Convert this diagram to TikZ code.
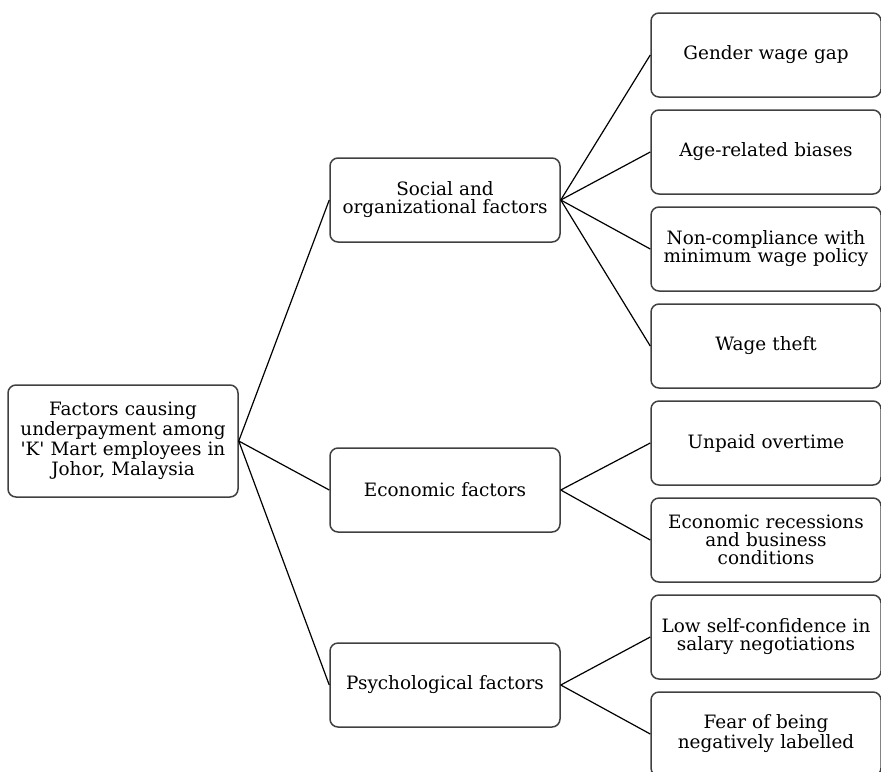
\documentclass[tikz,border=0pt]{standalone}
\usepackage{fontspec}
\setmainfont{DejaVu Serif}
\usetikzlibrary{positioning}

\begin{document}
\begin{tikzpicture}[x=0.5pt,y=-0.5pt,
    box/.style={draw=black!75,line width=0.75pt,rounded corners=4pt,
      align=center,inner sep=1pt,text width=113pt,
      font=\fontsize{9.2}{9}\selectfont},
    rootbox/.style={box,minimum width=115pt,minimum height=56pt},
    factor/.style={box,minimum width=115pt,minimum height=42pt},
    item/.style={box,minimum width=114pt,minimum height=42pt},
    link/.style={line width=0.6pt}]
  \useasboundingbox (0,0) rectangle (881,771);
  % Place the root
  \node[rootbox] (root) at (123,441) {Factors causing\\underpayment among\\
    \textquotesingle K\textquotesingle{} Mart employees in\\Johor, Malaysia};
  % Place the groups of factors
  \node[factor] (social) at (445,200) {Social and\\organizational factors};
  \node[factor] (econ) at (445,490) {Economic factors};
  \node[factor] (psych) at (445,685) {Psychological factors};
  % Place the single factors
  \node[item] (gender) at (766,55) {Gender wage gap};
  \node[item,below=5.75pt of gender] (age) {Age-related biases};
  \node[item,below=5.75pt of age] (minwage) {Non-compliance with\\minimum wage policy};
  \node[item,below=5.75pt of minwage] (theft) {Wage theft};
  \node[item,below=5.75pt of theft] (overtime) {Unpaid overtime};
  \node[item,below=5.75pt of overtime] (recession) {Economic recessions\\and business\\conditions};
  \node[item,below=5.75pt of recession] (confidence) {Low self-confidence in\\salary negotiations};
  \node[item,below=5.75pt of confidence] (fear) {Fear of being\\negatively labelled};
  % Connect the root to the groups
  \foreach \g in {social,econ,psych}
    \draw[link] (root.east) -- (\g.west);
  % Connect the groups to the single factors
  \foreach \f in {gender,age,minwage,theft}
    \draw[link] (social.east) -- (\f.west);
  \foreach \f in {overtime,recession}
    \draw[link] (econ.east) -- (\f.west);
  \foreach \f in {confidence,fear}
    \draw[link] (psych.east) -- (\f.west);
\end{tikzpicture}
\end{document}
